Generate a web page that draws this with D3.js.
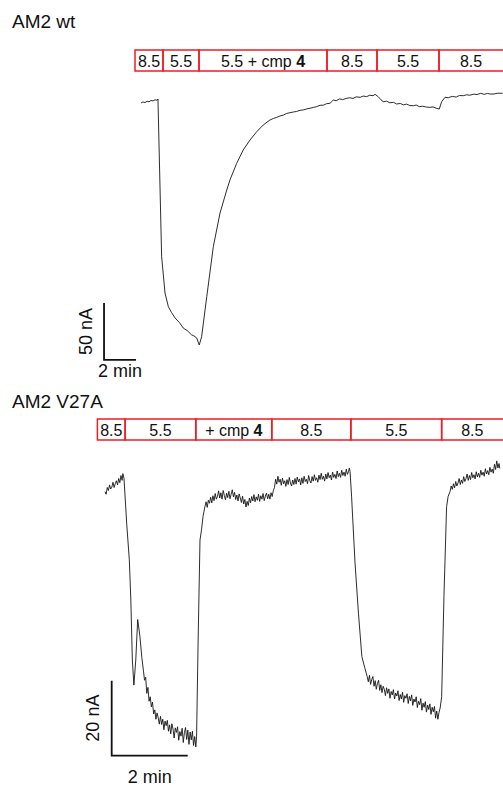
<!DOCTYPE html>
<html lang="en">

<head>
    <meta charset="UTF-8">
    <title>AM2 traces by D3</title>
    <style>
        body { margin: 0; background: #fff; }
        text { font-family: "Liberation Sans", Arial, sans-serif; fill: #111; }
        .panel-title { font-size: 19px; }
        .seg-box { fill: none; stroke: #ee1d23; stroke-width: 1.5; }
        .seg-text { font-size: 16px; text-anchor: middle; }
        .trace { fill: none; stroke: #151515; stroke-width: 0.9; stroke-linejoin: round; }
        .scalebar { fill: none; stroke: #111; stroke-width: 1.8; }
        .scale-text { font-size: 18px; text-anchor: middle; }
    </style>
    <script src="https://d3js.org/d3.v7.min.js"></script>
</head>

<body>
<script>
    // ---- data: time in min, current in nA (0 = starting level) ----
    var topTitle = "AM2 wt",
        botTitle = "AM2 V27A";

    // solution bar: edges (min) and pH labels, "|" marks the bold part
    var topSegEdges = [-0.375, 1.375, 3.625, 11.625, 14.75, 18.625, 23.2];
    var topSegLabels = ["8.5", "5.5", "5.5 + cmp |4", "8.5", "5.5", "8.5"];
    var botSegEdges = [-0.2, 0.53, 2.39, 4.39, 6.47, 8.86, 10.7];
    var botSegLabels = ["8.5", "5.5", "+ cmp |4", "8.5", "5.5", "8.5"];

    var topTrace = [
        [0, 0], [0.12, 0.9], [0.25, 0.4], [0.38, 1.5], [0.5, 1.0], [0.62, 2.2], [0.75, 1.8], [0.88, 2.8], [1.0, 2.4], [1.06, 3.5],
        [1.29, -134.8], [1.5, -166.7], [1.71, -178.7], [1.9, -183.6], [2.13, -188.6], [2.4, -192.6], [2.64, -197.4], [2.9, -199.8],
        [3.17, -203.5], [3.3, -204.2], [3.48, -206.1], [3.64, -212.3], [3.79, -205], [4.11, -169.9], [4.52, -126], [4.94, -96.5],
        [5.36, -76.3], [5.56, -67.5], [5.98, -52.9], [6.39, -41.2], [6.81, -32.5], [7.23, -25.2], [7.64, -19.3], [8.06, -14.9],
        [8.27, -13.6], [8.48, -12.6], [8.69, -11.4], [8.9, -10.6], [9.1, -9.2], [9.31, -8.5], [9.52, -7.9], [9.73, -7.4],
        [9.94, -6.4], [10.14, -6.1], [10.36, -5.2], [10.56, -4.6], [10.77, -3.9], [10.98, -3.2], [11.19, -2.0], [11.4, -1.9],
        [11.6, -0.6], [11.81, -0.3], [12.02, 2.6], [12.2, 2.0], [12.4, 3.6], [12.6, 3.0], [12.86, 4.1], [13.05, 4.6], [13.25, 4.0],
        [13.45, 5.4], [13.7, 5.0], [13.89, 6.1], [14.1, 5.6], [14.3, 6.8], [14.5, 6.4], [14.63, 7.6], [14.83, 5.5], [15.0, 2.8],
        [15.14, 1.1], [15.35, 1.6], [15.55, 0.2], [15.78, 0.6], [15.98, -0.9], [16.2, -0.4], [16.4, -1.6], [16.6, -1.0],
        [16.8, -2.2], [17.02, -2.4], [17.2, -1.8], [17.4, -3.2], [17.6, -2.8], [17.85, -3.6], [18.06, -3.8], [18.25, -3.4],
        [18.45, -4.6], [18.64, -5.3], [18.79, 1.1], [19.0, 5.0], [19.2, 4.6], [19.45, 5.8], [19.7, 5.2], [19.9, 6.6], [20.14, 6.4],
        [20.35, 7.2], [20.55, 6.8], [20.8, 7.8], [21.0, 7.4], [21.23, 8.5], [21.45, 7.6], [21.65, 8.4], [21.85, 7.8], [22.06, 7.9],
        [22.3, 8.6], [22.6, 8.5]
    ];

    var botTrace = [
        // pH 8.5 baseline
        [0, 0.1], [0.03, -0.6], [0.06, 1.2], [0.09, 0.4], [0.12, 1.9], [0.15, 0.8], [0.18, 1.3], [0.21, 2.6], [0.24, 1.2],
        [0.27, 2.2], [0.3, 3.0], [0.33, 1.9], [0.36, 3.6], [0.39, 2.5], [0.42, 4.4], [0.45, 3.1], [0.47, 4.9], [0.5, 3.7],
        // pH 5.5 activation, notch and slow decay
        [0.57, -8.3], [0.64, -18.1], [0.68, -28.8], [0.72, -44.8], [0.76, -51.5], [0.81, -44.8], [0.86, -34], [0.92, -38.6],
        [0.97, -44.2],
        [1.01, -47.5], [1.04, -50.2], [1.07, -49.4], [1.1, -53.7], [1.13, -52.1], [1.16, -55.8], [1.19, -54.6], [1.22, -57.3],
        [1.25, -56.0], [1.28, -59.2], [1.31, -58.1], [1.34, -60.6], [1.37, -58.9], [1.4, -60.2], [1.43, -61.9], [1.46, -59.8],
        [1.49, -62.0], [1.52, -60.6], [1.55, -63.4], [1.58, -61.1], [1.61, -62.3], [1.64, -60.9], [1.67, -63.8], [1.7, -62.1],
        [1.73, -64.5], [1.76, -61.8], [1.79, -63.2], [1.82, -65.6], [1.85, -62.9], [1.88, -64.1], [1.91, -62.6], [1.94, -66.2],
        [1.97, -63.9], [2.0, -65.1], [2.03, -63.0], [2.06, -66.8], [2.09, -64.2], [2.12, -62.8], [2.15, -66.0], [2.18, -63.5],
        [2.21, -67.3], [2.24, -64.0], [2.27, -66.1], [2.3, -63.8], [2.33, -67.6], [2.36, -65.2], [2.39, -68.0], [2.41, -65.3],
        // + cmp 4 / pH 8.5
        [2.45, -40], [2.5, -12.8], [2.54, -10.1], [2.58, -6.5], [2.63, -3.9],
        [2.66, -2.6], [2.69, -4.1], [2.72, -2.2], [2.75, -3.0], [2.78, -1.4], [2.81, -2.9], [2.84, -1.0], [2.87, -2.3], [2.9, -0.4],
        [2.93, -1.9], [2.96, -1.2], [2.99, 0.3], [3.02, -1.6], [3.05, -0.2], [3.08, -1.9], [3.11, 0.4], [3.14, -0.9], [3.17, -2.1],
        [3.2, -0.3], [3.23, -1.5], [3.26, 0.2], [3.29, -1.8], [3.32, -0.6], [3.35, 0.6], [3.38, -1.3], [3.41, -0.1], [3.44, -2.0],
        [3.47, -0.8], [3.5, -2.4], [3.53, -0.5], [3.56, -1.6], [3.59, -2.8], [3.62, -1.1], [3.65, -3.2], [3.68, -2.0], [3.71, -4.0],
        [3.74, -2.5], [3.77, -3.6], [3.8, -1.6], [3.83, -2.9], [3.86, -1.2], [3.89, -2.4], [3.92, -0.7], [3.95, -2.6], [3.98, -1.3],
        [4.01, -2.2], [4.04, -0.6], [4.07, -2.5], [4.1, -1.0], [4.13, -1.9], [4.16, -0.4], [4.19, -2.3], [4.22, -1.1], [4.25, -0.3],
        [4.28, -1.8], [4.31, -0.6], [4.34, -1.9], [4.37, -0.2], [4.4, -1.2], [4.43, 0.4], [4.46, 1.2], [4.49, 3.4], [4.52, 2.1],
        [4.55, 4.2], [4.58, 2.6], [4.61, 3.4], [4.64, 1.8], [4.67, 3.7], [4.7, 2.2], [4.73, 3.0], [4.76, 1.5], [4.79, 3.3],
        [4.82, 2.0], [4.85, 3.9], [4.88, 2.4], [4.91, 1.6], [4.94, 3.2], [4.97, 2.0], [5.0, 3.6], [5.03, 2.1], [5.06, 4.0],
        [5.09, 2.7], [5.12, 3.5], [5.15, 1.9], [5.18, 3.8], [5.21, 2.3], [5.24, 4.2], [5.27, 2.8], [5.3, 3.4], [5.33, 2.2],
        [5.36, 4.4], [5.39, 3.0], [5.42, 2.4], [5.45, 4.1], [5.48, 2.9], [5.51, 4.6], [5.54, 3.1], [5.57, 3.8], [5.6, 2.6],
        [5.63, 4.5], [5.66, 3.3], [5.69, 5.0], [5.72, 3.4], [5.75, 4.2], [5.78, 2.9], [5.81, 4.8], [5.84, 3.5], [5.87, 5.2],
        [5.9, 3.8], [5.93, 4.5], [5.96, 3.2], [5.99, 5.3], [6.02, 3.9], [6.05, 4.7], [6.08, 3.6], [6.11, 5.6], [6.14, 4.1],
        [6.17, 5.0], [6.2, 3.9], [6.23, 5.8], [6.26, 4.4], [6.29, 5.3], [6.32, 4.2], [6.35, 6.1], [6.38, 4.7], [6.41, 5.5],
        [6.43, 6.4], [6.45, 5.4],
        // pH 5.5 again
        [6.49, -1.3], [6.58, -18.9], [6.67, -32.3], [6.76, -43.9], [6.84, -47], [6.9, -49.2],
        [6.93, -50.6], [6.96, -48.9], [6.99, -51.3], [7.02, -50.0], [7.05, -49.2], [7.08, -51.8], [7.11, -50.3], [7.14, -52.6],
        [7.17, -51.0], [7.2, -50.2], [7.23, -52.9], [7.26, -51.4], [7.29, -53.5], [7.32, -51.8], [7.35, -52.6], [7.38, -54.3],
        [7.41, -52.2], [7.44, -53.7], [7.47, -52.5], [7.5, -55.0], [7.53, -53.2], [7.56, -54.1], [7.59, -52.7], [7.62, -55.2],
        [7.65, -53.6], [7.68, -54.4], [7.71, -53.0], [7.74, -55.6], [7.77, -54.0], [7.8, -55.2], [7.83, -53.4], [7.86, -56.1],
        [7.89, -54.3], [7.92, -55.0], [7.95, -53.8], [7.98, -56.4], [8.01, -54.5], [8.04, -55.7], [8.07, -54.1], [8.1, -56.9],
        [8.13, -55.2], [8.16, -56.0], [8.19, -54.6], [8.22, -57.5], [8.25, -55.8], [8.28, -56.7], [8.31, -55.1], [8.34, -58.2],
        [8.37, -56.3], [8.4, -57.4], [8.43, -55.9], [8.46, -58.7], [8.49, -56.8], [8.52, -58.0], [8.55, -56.5], [8.58, -59.3],
        [8.61, -57.4], [8.64, -58.6], [8.67, -57.2], [8.7, -60.3], [8.73, -58.4], [8.76, -60.6], [8.79, -58.8], [8.82, -57.6],
        // pH 8.5 recovery
        [8.86, -54.6], [8.92, -27.9], [8.99, -3.9], [9.03, -1.2],
        [9.08, 0.1], [9.11, 1.6], [9.14, 0.7], [9.17, 2.2], [9.2, 1.1], [9.23, 2.8], [9.26, 1.6], [9.29, 2.4], [9.32, 3.6],
        [9.35, 2.0], [9.38, 3.2], [9.41, 2.3], [9.44, 4.1], [9.47, 2.8], [9.5, 3.6], [9.53, 4.8], [9.56, 3.1], [9.59, 4.4],
        [9.62, 3.3], [9.65, 5.2], [9.68, 3.8], [9.71, 4.6], [9.74, 3.5], [9.77, 5.4], [9.8, 4.0], [9.83, 5.0], [9.86, 3.9],
        [9.89, 5.8], [9.92, 4.5], [9.95, 5.3], [9.98, 4.2], [10.01, 6.2], [10.04, 4.8], [10.07, 5.7], [10.1, 4.6], [10.13, 6.6],
        [10.16, 5.3], [10.19, 6.1], [10.22, 5.0], [10.25, 7.4], [10.28, 6.0], [10.31, 8.3], [10.34, 6.4], [10.37, 7.6],
        [10.39, 6.3]
    ];

    // scale bars: corner [time min, current nA] and sizes
    var scaleMinutes = 2;
    var topScaleCurrent = 50, botScaleCurrent = 20;
    var topScaleCorner = [-2.31, -225.4];
    var botScaleCorner = [0.176, -70.3];

    const w = 503, h = 787;

    const svg = d3.select("body")
        .append("svg")
        .attr("width", w)
        .attr("height", h);

    // px per min and px per nA differ between the two recordings
    var xTop = d3.scaleLinear().domain([0, 22.6]).range([141, 502.6]);
    var yTop = d3.scaleLinear().domain([0, -212.3]).range([103, 345]);
    var xBot = d3.scaleLinear().domain([0, 10.39]).range([105, 499.8]);
    var yBot = d3.scaleLinear().domain([0, -60]).range([492, 717]);

    function drawPanel(g, o) {
        g.append("text").attr("class", "panel-title")
            .attr("x", 12).attr("y", o.titleY).text(o.title);

        // solution bar
        var segs = o.labels.map((l, i) => ({ label: l, t0: o.edges[i], t1: o.edges[i + 1] }));
        var bar = g.append("g");
        bar.selectAll("rect").data(segs).enter().append("rect")
            .attr("class", "seg-box")
            .attr("x", d => o.x(d.t0))
            .attr("y", o.barY)
            .attr("width", d => o.x(d.t1) - o.x(d.t0))
            .attr("height", 21);

        bar.selectAll("text").data(segs).enter().append("text")
            .attr("class", "seg-text")
            .attr("x", d => (o.x(d.t0) + Math.min(o.x(d.t1), w)) / 2)
            .attr("y", o.barY + 16.5)
            .each(function (d) {
                var parts = d.label.split("|");
                d3.select(this).append("tspan").text(parts[0]);
                if (parts[1]) d3.select(this).append("tspan").attr("font-weight", "bold").text(parts[1]);
            });

        var line = d3.line().x(d => o.x(d[0])).y(d => o.y(d[1]));
        g.append("path").attr("class", "trace").attr("d", line(o.trace));

        // scale bar (L shape)
        var c = o.corner;
        var sx0 = o.x(c[0]), sy0 = o.y(c[1]);
        var sy1 = o.y(c[1] + o.scaleCurrent), sx1 = o.x(c[0] + scaleMinutes);
        g.append("path").attr("class", "scalebar")
            .attr("d", "M" + sx0 + "," + sy1 + "V" + sy0 + "H" + sx1);

        g.append("text").attr("class", "scale-text")
            .attr("transform", "translate(" + (sx0 - 12.5) + "," + ((sy0 + sy1) / 2) + ") rotate(-90)")
            .text(o.scaleCurrent + " nA");
        g.append("text").attr("class", "scale-text")
            .attr("x", (sx0 + sx1) / 2).attr("y", sy0 + o.minGap)
            .text(scaleMinutes + " min");
    }

    drawPanel(svg.append("g"), {
        title: topTitle, titleY: 28, barY: 50, edges: topSegEdges, labels: topSegLabels,
        trace: topTrace, x: xTop, y: yTop, corner: topScaleCorner, scaleCurrent: topScaleCurrent, minGap: 17
    });
    drawPanel(svg.append("g"), {
        title: botTitle, titleY: 408, barY: 419, edges: botSegEdges, labels: botSegLabels,
        trace: botTrace, x: xBot, y: yBot, corner: botScaleCorner, scaleCurrent: botScaleCurrent, minGap: 27.5
    });
</script>
</body>

</html>
